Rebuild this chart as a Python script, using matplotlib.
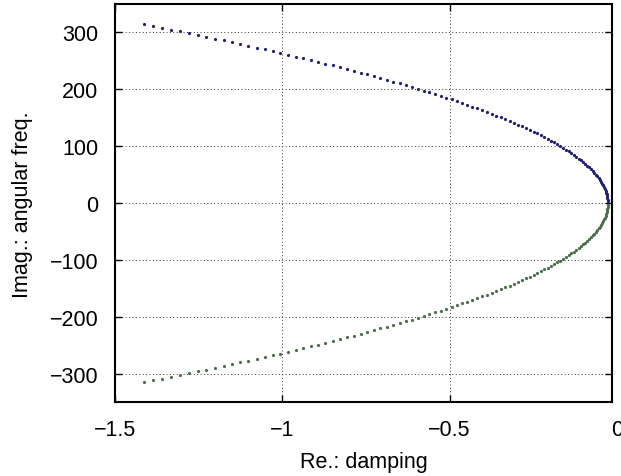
import matplotlib
matplotlib.use('Agg')
from matplotlib import pyplot as plt
import matplotlib.transforms as mtransforms

# eigenvalues of the first 100 modes (upper branch), lower branch is the conjugate
imag_part = [3.14, 6.28, 9.42, 12.57, 15.71, 18.85, 21.99, 25.13, 28.27, 31.42,
             34.56, 37.70, 40.84, 43.98, 47.12, 50.27, 53.41, 56.55, 59.69, 62.83,
             65.97, 69.12, 72.26, 75.40, 78.54, 81.68, 84.82, 87.96, 91.11, 94.25,
             97.39, 100.53, 103.67, 106.81, 109.96, 113.10, 116.24, 119.38, 122.52, 125.66,
             128.81, 131.95, 135.09, 138.23, 141.37, 144.51, 147.65, 150.80, 153.94, 157.08,
             160.22, 163.36, 166.50, 169.65, 172.79, 175.93, 179.07, 182.21, 185.35, 188.50,
             191.64, 194.78, 197.92, 201.06, 204.20, 207.35, 210.49, 213.63, 216.77, 219.91,
             223.05, 226.19, 229.34, 232.48, 235.62, 238.76, 241.90, 245.04, 248.19, 251.33,
             254.47, 257.61, 260.75, 263.89, 267.04, 270.18, 273.32, 276.46, 279.60, 282.74,
             285.88, 289.03, 292.17, 295.31, 298.45, 301.59, 304.73, 307.88, 311.02, 314.16]

real_part = [-0.0271, -0.0276, -0.0282, -0.0292, -0.0305, -0.0320, -0.0338, -0.0359, -0.0382, -0.0409,
             -0.0438, -0.0470, -0.0504, -0.0542, -0.0582, -0.0625, -0.0671, -0.0719, -0.0771, -0.0825,
             -0.0882, -0.0941, -0.1004, -0.1069, -0.1137, -0.1208, -0.1281, -0.1357, -0.1436, -0.1518,
             -0.1603, -0.1690, -0.1780, -0.1873, -0.1969, -0.2068, -0.2169, -0.2273, -0.2380, -0.2489,
             -0.2602, -0.2717, -0.2835, -0.2955, -0.3079, -0.3205, -0.3334, -0.3466, -0.3600, -0.3738,
             -0.3878, -0.4020, -0.4166, -0.4315, -0.4466, -0.4620, -0.4776, -0.4936, -0.5098, -0.5263,
             -0.5431, -0.5602, -0.5775, -0.5951, -0.6130, -0.6312, -0.6496, -0.6684, -0.6874, -0.7066,
             -0.7262, -0.7460, -0.7661, -0.7865, -0.8072, -0.8281, -0.8494, -0.8709, -0.8926, -0.9147,
             -0.9370, -0.9596, -0.9825, -1.0057, -1.0291, -1.0528, -1.0768, -1.1011, -1.1256, -1.1505,
             -1.1756, -1.2010, -1.2266, -1.2526, -1.2788, -1.3053, -1.3320, -1.3591, -1.3864, -1.4140]

xticks = [-1.5, -1, -0.5]
xtick_labels = ['\u22121.5', '\u22121', '\u22120.5']
yticks = [-300, -200, -100, 0, 100, 200, 300]
ytick_labels = ['\u2212300', '\u2212200', '\u2212100', '0', '100', '200', '300']

plt.rcParams['font.family'] = ['Liberation Sans', 'DejaVu Sans']
fs = 15.5

fig = plt.figure(figsize=(6.21, 4.77), dpi=100)
ax = fig.add_axes([0.1852, 0.1551, 0.8011, 0.8334])

neg_imag = [-v for v in imag_part]
ax.plot(real_part, imag_part, 'o', color='#1f1f78', markersize=2.3, markeredgewidth=0)
ax.plot(real_part, neg_imag, 'o', color='#4a6f4a', markersize=2.3, markeredgewidth=0)

ax.set_xlim(-1.5, -0.013)
ax.set_ylim(-349, 349)
ax.set_xticks(xticks)
ax.set_xticklabels(xtick_labels)
ax.set_yticks(yticks)
ax.set_yticklabels(ytick_labels)

# the 0 tick sits just past the right edge of the box
trans = mtransforms.blended_transform_factory(ax.transData, ax.transAxes)
ax.annotate('0', xy=(0, 0), xycoords=trans, xytext=(0, -12), textcoords='offset points',
            ha='center', va='top', fontsize=fs, annotation_clip=False)

ax.grid(True, linestyle=(0, (1, 2.5)), color='#333333', linewidth=0.7)
ax.tick_params(direction='in', length=5, width=1, top=True, right=True, labelsize=fs)
ax.tick_params(axis='x', pad=12)
ax.tick_params(axis='y', pad=12)
for s in ax.spines.values():
    s.set_linewidth(1.5)

ax.set_xlabel('Re.: damping', fontsize=fs, labelpad=8)
ax.set_ylabel('Imag.: angular freq.', fontsize=fs, labelpad=12)

fig.savefig('out.png', dpi=100)
